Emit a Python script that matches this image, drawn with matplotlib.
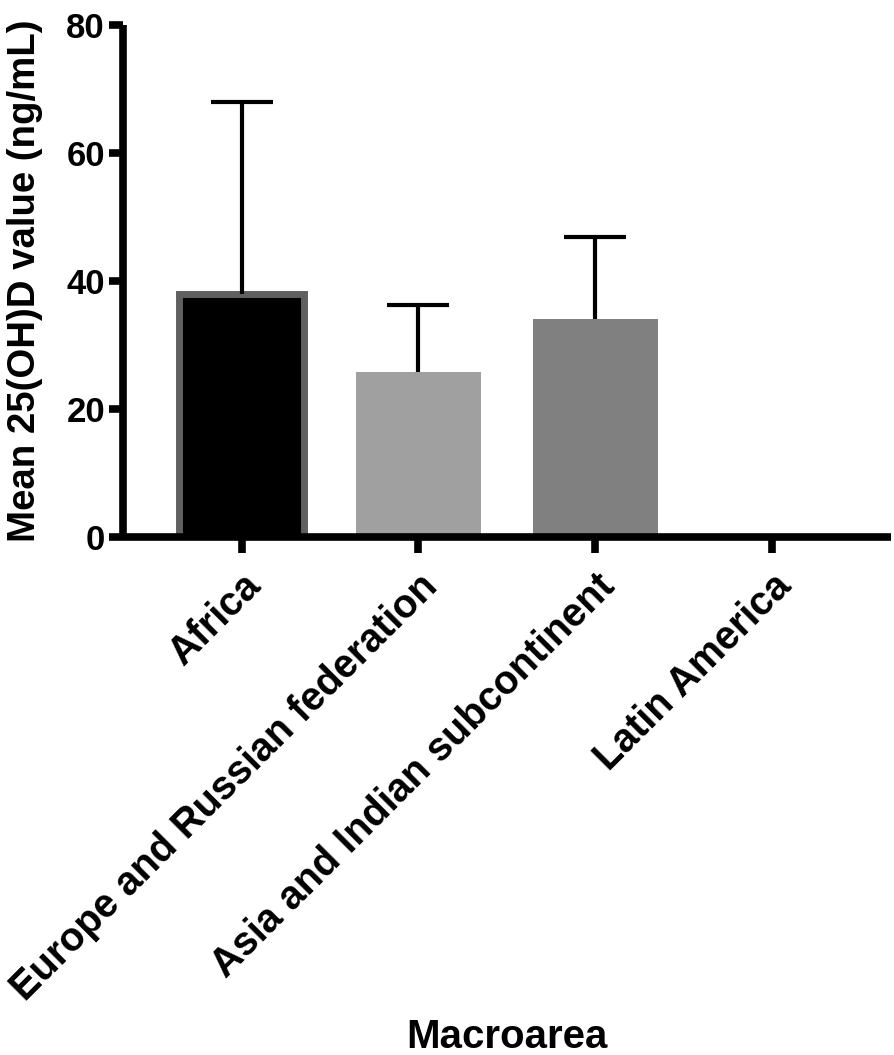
import numpy as np
import matplotlib
matplotlib.use("Agg")
import matplotlib.pyplot as plt

plt.rcParams['font.family'] = ['Liberation Sans', 'DejaVu Sans']

# data
areas = ['Africa', 'Europe and Russian federation',
         'Asia and Indian subcontinent', 'Latin America']
means = [38.0, 25.7, 34.1, np.nan]
upper_err = [30.0, 10.55, 12.8, np.nan]
fills = ['#000000', '#a0a0a0', '#808080', '#ffffff']
edges = ['#606060', '#a0a0a0', '#808080', '#ffffff']
edge_w = [5.0, 0, 0, 0]

fig = plt.figure(figsize=(8.94, 10.55), dpi=100)
ax = fig.add_axes([0.1376, 0.491, 0.8587, 0.4855])

x = np.arange(len(areas))
ax.bar(x, means, width=0.705, color=fills, edgecolor=edges, linewidth=edge_w, zorder=1)
line, caps, bars = ax.errorbar(x, means, yerr=[np.zeros(len(x)), upper_err], fmt='none',
                               ecolor='black', elinewidth=3.0, capsize=22, capthick=3.0,
                               zorder=2)
# only the upper cap is shown
caps[0].set_visible(False)

ax.set_xlim(-0.67, 3.67)
ax.set_ylim(0, 80)
ax.set_yticks([0, 20, 40, 60, 80])

for s in ['top', 'right']:
    ax.spines[s].set_visible(False)
for s in ['left', 'bottom']:
    ax.spines[s].set_linewidth(5.5)
    ax.spines[s].set_capstyle('butt')

ax.tick_params(axis='y', length=10, width=5.5, pad=3, labelsize=25)
ax.tick_params(axis='x', length=11.5, width=5.5, pad=10, labelsize=28.5)
for lab in ax.get_yticklabels():
    lab.set_fontweight('bold')

ax.set_xticks(x)
ax.set_xticklabels(areas, rotation=45, ha='right', rotation_mode='anchor',
                   fontweight='bold')

ax.set_ylabel('Mean 25(OH)D value (ng/mL)', fontsize=27.6, fontweight='bold')
ax.yaxis.set_label_coords(-0.104, 0.5)
ax.set_xlabel('Macroarea', fontsize=29, fontweight='bold')
ax.xaxis.set_label_coords(0.5, -0.94)

fig.savefig('out.png', dpi=100)
